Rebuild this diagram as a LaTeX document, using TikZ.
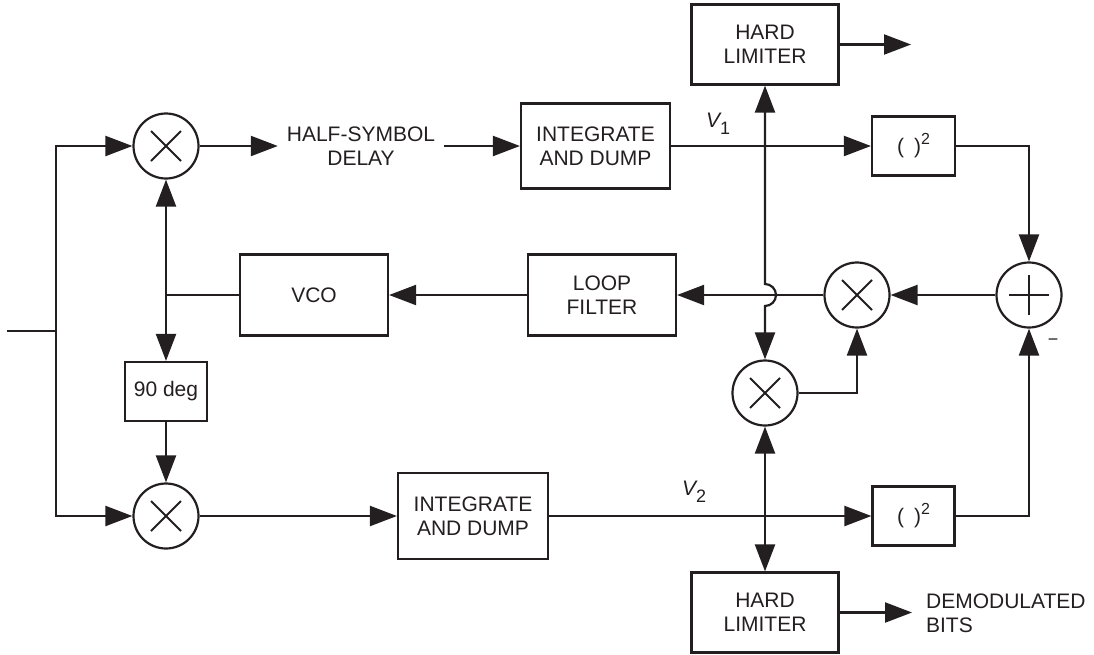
\documentclass[tikz,border=0pt]{standalone}
\usepackage{fontspec}
\setmainfont{Liberation Sans}
\usetikzlibrary{arrows.meta}
\definecolor{ink}{HTML}{231F20}
\begin{document}
\begin{tikzpicture}[x=1pt,y=-1pt,
  every node/.style={font=\fontsize{21}{24}\selectfont, text=ink},
  line width=2.2pt, draw=ink,
  blk/.style={draw=ink, line width=2.2pt, align=center, inner sep=0pt},
  mult/.style={circle, draw=ink, line width=2.2pt, minimum size=65pt, inner sep=0pt,
    path picture={\draw[ink, line width=1.8pt]
      ([shift={(-15pt,-15pt)}]path picture bounding box.center) -- ([shift={(15pt,15pt)}]path picture bounding box.center)
      ([shift={(-15pt,15pt)}]path picture bounding box.center) -- ([shift={(15pt,-15pt)}]path picture bounding box.center);}},
  summer/.style={circle, draw=ink, line width=2.2pt, minimum size=65pt, inner sep=0pt,
    path picture={\draw[ink, line width=1.8pt]
      ([shift={(-20pt,0pt)}]path picture bounding box.center) -- ([shift={(20pt,0pt)}]path picture bounding box.center)
      ([shift={(0pt,-20pt)}]path picture bounding box.center) -- ([shift={(0pt,20pt)}]path picture bounding box.center);}},
  arr/.style={-{Triangle[length=27pt,width=20pt]}},
  darr/.style={{Triangle[length=27pt,width=20pt]}-{Triangle[length=27pt,width=20pt]}}
]
\useasboundingbox (0,0) rectangle (1094,654);

% nodes
\node[mult] (M1) at (166,146) {};
\node[mult] (M2) at (166,516) {};
\node[mult] (M3) at (765,393) {};
\node[mult] (M4) at (857,295) {};
\node[summer] (SUM) at (1029,295) {};

\node[align=center, inner xsep=8pt, inner ysep=0pt] (HSD) at (361,146) {HALF-SYMBOL\\DELAY};
\node[blk, minimum width=149pt, minimum height=85pt] (ID1) at (595.5,146) {INTEGRATE\\AND DUMP};
\node[blk, minimum width=150pt, minimum height=86pt] (ID2) at (473,516) {INTEGRATE\\AND DUMP};
\node[blk, minimum width=148pt, minimum height=81pt] (VCO) at (314,295) {VCO};
\node[blk, minimum width=148pt, minimum height=81pt] (LF) at (602,295) {LOOP\\FILTER};
\node[blk, minimum width=82pt, minimum height=59pt] (P90) at (166,391.5) {90 deg};
\node[blk, minimum width=147pt, minimum height=80pt] (HL1) at (765,44.5) {HARD\\LIMITER};
\node[blk, minimum width=147pt, minimum height=80pt] (HL2) at (765,612.5) {HARD\\LIMITER};
\node[blk, minimum width=83pt, minimum height=59pt] (SQ1) at (913.5,146) {(\hspace{10pt})\raisebox{9pt}{\fontsize{16}{16}\selectfont 2}};
\node[blk, minimum width=82pt, minimum height=59pt] (SQ2) at (913.5,516) {(\hspace{10pt})\raisebox{9pt}{\fontsize{16}{16}\selectfont 2}};

\node (V1) at (718,124) {\itshape V\raisebox{-7pt}{\upshape\fontsize{18}{18}\selectfont 1}};
\node (V2) at (694,492) {\itshape V\raisebox{-7pt}{\upshape\fontsize{18}{18}\selectfont 2}};
\node (MINUS) at (1053,342) {\fontsize{18}{18}\selectfont −};
\node[anchor=west, align=left, inner sep=0pt] (DB) at (925,613) {DEMODULATED\\BITS};

% coordinates
\coordinate (IN) at (7,331);
\coordinate (SP) at (56,331);
\coordinate (VJ) at (166,295);
\coordinate (HOPA) at (765,284);
\coordinate (O1) at (911,44.5);
\coordinate (O2) at (912,612.5);

% connectors
\draw (IN) -- (SP);
\draw[arr] (SP) |- (M1.west);
\draw[arr] (SP) |- (M2.west);
\draw[arr] (M1.east) -- (HSD.west);
\draw[arr] (HSD.east) -- (ID1.west);
\draw[arr] (ID1.east) -- (SQ1.west);
\draw[arr] (SQ1.east) -| (SUM.north);
\draw[arr] (SQ2.east) -| (SUM.south);
\draw[arr] (SUM.west) -- (M4.east);
\draw[arr] (M4.west) -- (LF.east);
\draw[arr] (LF.west) -- (VCO.east);
\draw (VCO.west) -- (VJ);
\draw[darr] (M1.south) -- (P90.north);
\draw[arr] (P90.south) -- (M2.north);
\draw[arr] (M2.east) -- (ID2.west);
\draw[arr] (ID2.east) -- (SQ2.west);
\draw[darr] (HL1.south) -- (HOPA) arc[start angle=90, end angle=-90, radius=11pt] -- (M3.north);
\draw[darr] (M3.south) -- (HL2.north);
\draw[arr] (M3.east) -| (M4.south);
\draw[arr] (HL1.east) -- (O1);
\draw[arr] (HL2.east) -- (O2);
\end{tikzpicture}
\end{document}
